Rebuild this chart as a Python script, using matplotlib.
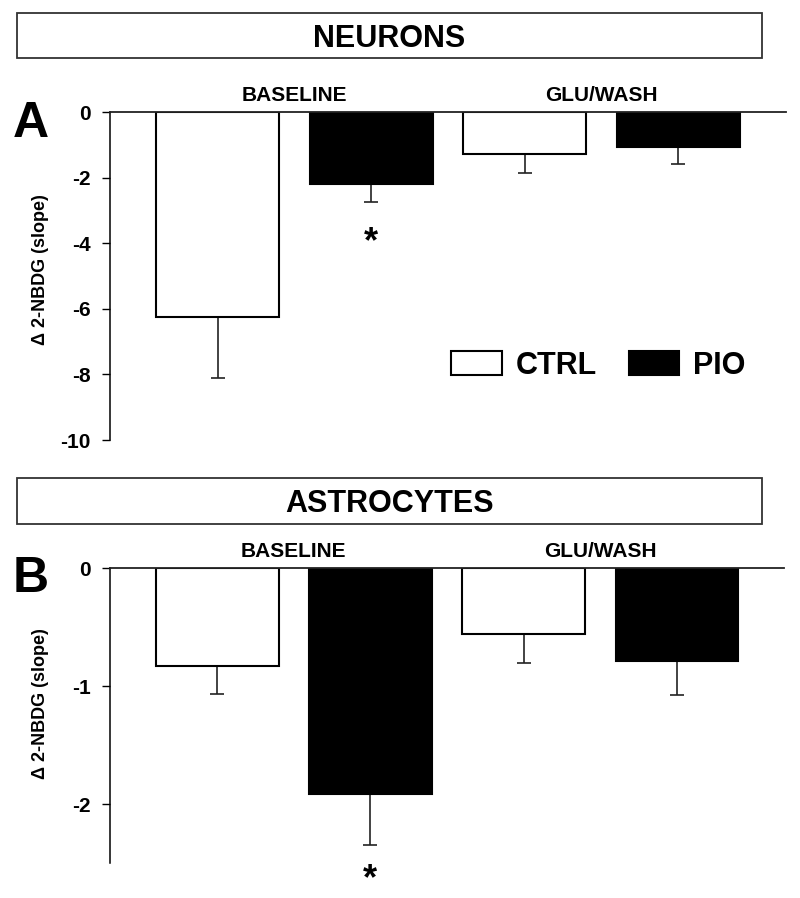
import matplotlib
matplotlib.use("Agg")
import numpy as np
import matplotlib.pyplot as plt
from matplotlib.patches import Rectangle

plt.rcParams['font.family'] = ['Liberation Sans', 'DejaVu Sans']
plt.rcParams['font.weight'] = 'bold'
plt.rcParams['axes.unicode_minus'] = False

# data (means and lower SEM)
groups = ['BASELINE', 'GLU/WASH']
conditions = ['CTRL', 'PIO']
bar_colors = ['white', 'black', 'white', 'black']

neuron_means = [-6.26, -2.20, -1.29, -1.06]
neuron_err = [1.85, 0.55, 0.58, 0.53]
neuron_star = -3.81

astro_means = [-0.83, -1.915, -0.56, -0.79]
astro_err = [0.24, 0.43, 0.245, 0.29]
astro_star = -2.59

W, H = 800, 898
fig = plt.figure(figsize=(W / 100, H / 100), dpi=100)


def px_rect(x0, y0, x1, y1):
    # pixel box (top-left origin) -> figure fraction rect
    return [x0 / W, (H - y1) / H, (x1 - x0) / W, (y1 - y0) / H]


def title_box(text, y0, y1, base):
    fig.add_artist(Rectangle((17 / W, (H - y1) / H), 745 / W, (y1 - y0) / H,
                             transform=fig.transFigure, fill=False,
                             edgecolor='#333333', linewidth=1.3))
    fig.text(389.5 / W, (H - base) / H, text, ha='center', va='baseline',
             fontsize=22)


def draw_panel(ax, means, errs, ylim, yticks, star_y):
    x = np.arange(len(means))
    bars = ax.bar(x, means, width=0.8, color=bar_colors, edgecolor='black',
                  linewidth=1.5, zorder=2)
    ax.errorbar(x, means, yerr=[errs, np.zeros(len(errs))], fmt='none',
                ecolor='#222222', elinewidth=1.2, capsize=4.7, capthick=1.2,
                zorder=1)
    ax.set_xlim(-0.7, 3.7)
    ax.set_ylim(*ylim)
    ax.set_yticks(yticks)
    ax.set_xticks([])
    for s in ['right', 'bottom']:
        ax.spines[s].set_visible(False)
    ax.spines['left'].set_linewidth(1.1)
    ax.spines['top'].set_linewidth(1.3)
    ax.spines['top'].set_color('#222222')
    ax.tick_params(axis='y', direction='out', length=6, width=1.0, pad=8,
                   labelsize=15)
    for i, g in enumerate(groups):
        ax.annotate(g, xy=(2 * i + 0.5, 1), xycoords=('data', 'axes fraction'),
                    xytext=(0, 8), textcoords='offset points', ha='center',
                    va='baseline', fontsize=15)
    # significance mark under the PIO baseline bar
    ax.annotate('*', xy=(1, star_y), xytext=(0, -11.3),
                textcoords='offset points', ha='center', va='baseline',
                fontsize=26, annotation_clip=False)
    ax.set_ylabel('\u0394 2-NBDG (slope)', fontsize=13, fontweight='bold')
    return bars


# panel A: neurons
title_box('NEURONS', 13, 58, 47)
ax1 = fig.add_axes(px_rect(110, 112, 786, 440))
bars = draw_panel(ax1, neuron_means, neuron_err, (-10, 0), range(0, -11, -2),
                  neuron_star)
ax1.yaxis.set_label_coords(-0.09, 0.52)
ax1.legend([bars[0], bars[1]], conditions, ncol=2, frameon=False, fontsize=22,
           loc='center', bbox_to_anchor=(0.7226, 0.227), handlelength=1.64,
           handleheight=0.82, handletextpad=0.46, columnspacing=1.05,
           borderpad=0, borderaxespad=0)
fig.text(13 / W, (H - 137) / H, 'A', fontsize=36, va='baseline')

# panel B: astrocytes
title_box('ASTROCYTES', 478, 524, 512)
ax2 = fig.add_axes(px_rect(110, 568, 784, 863))
draw_panel(ax2, astro_means, astro_err, (-2.5, 0), [0, -1, -2], astro_star)
ax2.yaxis.set_label_coords(-0.09, 0.54)
fig.text(13 / W, (H - 592) / H, 'B', fontsize=36, va='baseline')

fig.savefig('out.png', dpi=100)
